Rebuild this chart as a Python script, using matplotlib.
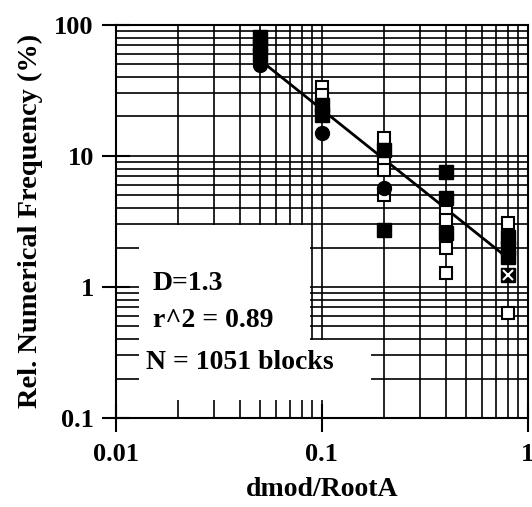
import matplotlib
matplotlib.use("AGG")
import matplotlib.pyplot as plt
from matplotlib.patches import Rectangle
from matplotlib.ticker import FixedLocator, NullFormatter

plt.rcParams['font.family'] = ['Liberation Serif', 'DejaVu Serif']
plt.rcParams['font.weight'] = 'bold'

# data
filled_sq_x = [0.05, 0.05, 0.05, 0.1, 0.1, 0.2, 0.2, 0.4, 0.4, 0.4, 0.8, 0.8, 0.8]
filled_sq_y = [81, 70, 59, 24.5, 20.6, 11.1, 2.7, 7.5, 4.8, 2.6, 2.4, 2.0, 1.7]
open_sq_x = [0.1, 0.1, 0.2, 0.2, 0.2, 0.2, 0.4, 0.4, 0.4, 0.4, 0.8, 0.8]
open_sq_y = [33.7, 29, 13.7, 9.0, 7.8, 5.0, 3.7, 3.25, 2.0, 1.28, 3.1, 0.63]
circle_x = [0.05, 0.1, 0.2]
circle_y = [49, 15, 5.7]
cross_x = [0.8]
cross_y = [1.24]
fit_x = [0.05, 0.8]
fit_y = [54, 1.66]

x_ticks = [0.01, 0.1, 1]
x_labels = ["0.01", "0.1", "1"]
y_ticks = [0.1, 1, 10, 100]
y_labels = ["0.1", "1", "10", "100"]
stats = ["D=1.3", "r^2 = 0.89", "N = 1051 blocks"]

fig = plt.figure(figsize=(5.32, 5.07), dpi=100)
ax = fig.add_axes([0.218, 0.1755, 0.774, 0.7755])
ax.set_xscale("log")
ax.set_yscale("log")
ax.set_xlim(0.01, 1)
ax.set_ylim(0.1, 100)

ax.grid(True, which="both", color="black", linewidth=1.2)
ax.set_axisbelow(True)

ax.plot(fit_x, fit_y, color="black", linewidth=2, zorder=4)
ax.plot(open_sq_x, open_sq_y, "s", ms=9, mfc="white", mec="black", mew=1.5, zorder=5)
ax.plot(filled_sq_x, filled_sq_y, "s", ms=10, mfc="black", mec="black", zorder=6)
ax.plot(circle_x, circle_y, "o", ms=10, mfc="black", mec="black", zorder=6)
ax.plot(cross_x, cross_y, "s", ms=10, mfc="black", mec="black", zorder=6)
ax.plot(cross_x, cross_y, "x", ms=7, mec="white", mew=1.5, zorder=7)

# white text panel over the lower-left grid
ax.add_patch(Rectangle((0.055, 0.046), 0.415, 0.445, transform=ax.transAxes,
                       facecolor="white", edgecolor="none", zorder=3))
ax.add_patch(Rectangle((0.055, 0.046), 0.565, 0.152, transform=ax.transAxes,
                       facecolor="white", edgecolor="none", zorder=3))
ax.text(0.09, 0.343, stats[0], transform=ax.transAxes, fontsize=20,
        fontweight="bold", va="center", zorder=8)
ax.text(0.09, 0.249, stats[1], transform=ax.transAxes, fontsize=20,
        fontweight="bold", va="center", zorder=8)
ax.text(0.073, 0.142, stats[2], transform=ax.transAxes, fontsize=20,
        fontweight="bold", va="center", zorder=8)

ax.xaxis.set_major_locator(FixedLocator(x_ticks))
ax.set_xticklabels(x_labels)
ax.yaxis.set_major_locator(FixedLocator(y_ticks))
ax.set_yticklabels(y_labels)
ax.xaxis.set_minor_formatter(NullFormatter())
ax.yaxis.set_minor_formatter(NullFormatter())
ax.tick_params(which="major", direction="inout", length=20, width=1.5,
               labelsize=19)
ax.tick_params(axis="x", which="major", pad=8)
ax.tick_params(axis="y", which="major", pad=6)
ax.tick_params(which="minor", length=0)
for lab in ax.get_xticklabels() + ax.get_yticklabels():
    lab.set_fontweight("bold")
for sp in ax.spines.values():
    sp.set_linewidth(1.5)
    sp.set_zorder(9)

ax.set_xlabel("dmod/RootA", fontsize=20, fontweight="bold", labelpad=8)
ax.set_ylabel("Rel. Numerical Frequency (%)", fontsize=20.5, fontweight="bold",
              labelpad=8)

plt.savefig("out.png", dpi=100)
